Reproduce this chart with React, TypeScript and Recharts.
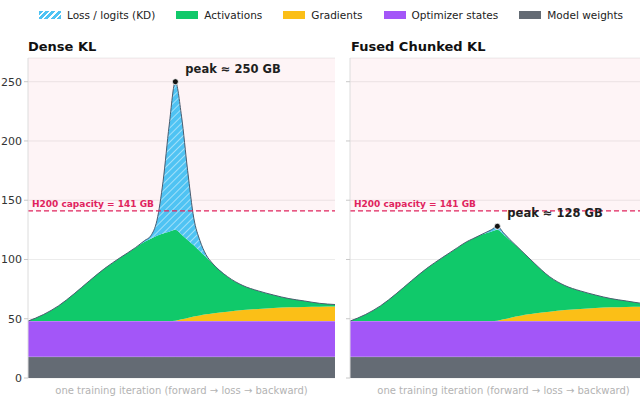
import {
  AreaChart,
  Area,
  XAxis,
  YAxis,
  CartesianGrid,
  ReferenceArea,
  ReferenceLine,
  ReferenceDot,
} from 'recharts'

// progress through one training iteration, in %
const progress = [0, 5, 10, 15, 20, 25, 30, 35, 38, 40, 42, 44, 46, 48, 50, 52, 54, 56, 58, 60, 65, 70, 75, 80, 85, 90, 95, 100]

// memory per component, GB
const modelWeights = [18, 18, 18, 18, 18, 18, 18, 18, 18, 18, 18, 18, 18, 18, 18, 18, 18, 18, 18, 18, 18, 18, 18, 18, 18, 18, 18, 18]
const optimizerStates = [30, 30, 30, 30, 30, 30, 30, 30, 30, 30, 30, 30, 30, 30, 30, 30, 30, 30, 30, 30, 30, 30, 30, 30, 30, 30, 30, 30]
const gradients = [0, 0, 0, 0, 0, 0, 0, 0, 0, 0, 0, 0, 0, 0.3, 1.5, 2.7, 3.8, 4.8, 5.7, 6.5, 8, 9.3, 10.3, 11, 11.6, 12, 12.2, 12.3]
const activations = [0, 5.5, 13, 23, 34, 44.5, 53.5, 62, 67, 69.5, 72, 74, 75.5, 76.7, 71.5, 65.8, 60.2, 54.2, 48.3, 42.5, 29.5, 20.7, 15.2, 11, 7.4, 5, 2.8, 1.7]
const denseLoss = [0, 0, 0, 0, 0, 0, 0, 0, 1, 2.5, 13, 44, 90, 125, 100, 58.5, 23, 9, 2, 0, 0, 0, 0, 0, 0, 0, 0, 0]
const fusedLoss = [0, 0, 0, 0, 0, 0, 0, 0, 0, 0, 0, 0.5, 1.5, 3, 1.5, 0.5, 0, 0, 0, 0, 0, 0, 0, 0, 0, 0, 0, 0]

const yTicks = [0, 50, 100, 150, 200, 250]
const capacity = 141

const C = {
  loss: '#4fc3f3',
  act: '#10c96a',
  grad: '#fbbf17',
  opt: '#a356f8',
  weights: '#646b74',
  cap: '#e0245e',
}

const legend = [
  { name: 'Loss / logits (KD)', color: C.loss, hatch: true },
  { name: 'Activations', color: C.act },
  { name: 'Gradients', color: C.grad },
  { name: 'Optimizer states', color: C.opt },
  { name: 'Model weights', color: C.weights },
]

const peakLabel = (text: string) => (props: any) => {
  const vb = props.viewBox || {}
  const cx = vb.x + (vb.width || 0) / 2
  const cy = vb.y + (vb.height || 0) / 2
  return (
    <text x={cx + 10} y={cy - 9} fontSize={11.5} fontWeight="bold" fill="#1f1f1f">
      {text}
    </text>
  )
}

function Panel({ loss, id, labels }: { loss: number[]; id: string; labels: boolean }) {
  const rows = progress.map((p, i) => ({
    p,
    weights: modelWeights[i],
    opt: optimizerStates[i],
    grad: gradients[i],
    act: activations[i],
    loss: loss[i],
  }))
  const totals = rows.map((r) => r.weights + r.opt + r.grad + r.act + r.loss)
  const peak = Math.max(...totals)
  const peakAt = progress[totals.indexOf(peak)]

  return (
    <AreaChart width={335} height={400} data={rows} margin={{ top: 58, right: 0, bottom: 0, left: 0 }}>
      <defs>
        <pattern id={id} width={5} height={5} patternUnits="userSpaceOnUse" patternTransform="rotate(45)">
          <rect width={5} height={5} fill={C.loss} />
          <line x1={0} y1={0} x2={0} y2={5} stroke="#fff" strokeWidth={1.6} strokeOpacity={0.6} />
        </pattern>
      </defs>
      <ReferenceArea y1={capacity} y2={270} fill="#f43f5e" fillOpacity={0.06} stroke="none" />
      <CartesianGrid vertical={false} stroke="#ececec" />
      <XAxis
        dataKey="p"
        type="number"
        domain={[0, 100]}
        ticks={[]}
        tick={false}
        axisLine={false}
        tickLine={false}
        height={22}
        label={{
          value: 'one training iteration  (forward \u2192 loss \u2192 backward)',
          position: 'insideBottom',
          offset: 6,
          fill: '#b3b3b3',
          fontSize: 10,
        }}
      />
      <YAxis
        width={28}
        domain={[0, 270]}
        ticks={yTicks}
        interval={0}
        tickSize={4}
        axisLine={{ stroke: '#dcdcdc' }}
        tickLine={{ stroke: '#c8c8c8' }}
        tick={labels ? { fill: '#333', fontSize: 11 } : () => <g />}
      />
      <Area type="monotone" dataKey="weights" stackId="m" fill={C.weights} fillOpacity={1} stroke="#fff" strokeOpacity={0.5} strokeWidth={0.8} isAnimationActive={false} />
      <Area type="monotone" dataKey="opt" stackId="m" fill={C.opt} fillOpacity={1} stroke="#fff" strokeOpacity={0.5} strokeWidth={0.8} isAnimationActive={false} />
      <Area type="monotone" dataKey="grad" stackId="m" fill={C.grad} fillOpacity={1} stroke="none" isAnimationActive={false} />
      <Area type="monotone" dataKey="act" stackId="m" fill={C.act} fillOpacity={1} stroke="none" isAnimationActive={false} />
      <Area type="monotone" dataKey="loss" stackId="m" fill={`url(#${id})`} fillOpacity={1} stroke="#4b5d70" strokeWidth={1} isAnimationActive={false} />
      <ReferenceLine
        y={capacity}
        stroke={C.cap}
        strokeDasharray="5 3"
        strokeWidth={1.3}
        label={{
          value: `H200 capacity = ${capacity} GB`,
          position: 'insideBottomLeft',
          offset: 4,
          fill: C.cap,
          fontSize: 9,
          fontWeight: 'bold',
        }}
      />
      <ReferenceDot x={peakAt} y={peak} r={3} fill="#111" stroke="#fff" strokeWidth={0.8} label={peakLabel(`peak \u2248 ${Math.round(peak)} GB`)} />
    </AreaChart>
  )
}

export default function App() {
  return (
    <div
      style={{
        position: 'fixed',
        top: 0,
        left: 0,
        width: 640,
        height: 400,
        overflow: 'hidden',
        background: '#fff',
        fontFamily: '"DejaVu Sans", sans-serif',
      }}
    >
      <div style={{ position: 'absolute', top: 9, left: 39, display: 'flex', alignItems: 'center', gap: 21, fontSize: 10.5, color: '#222' }}>
        {legend.map((l) => (
          <div key={l.name} style={{ display: 'flex', alignItems: 'center', gap: 6 }}>
            <span
              style={{
                display: 'inline-block',
                width: 22,
                height: 8,
                background: l.hatch
                  ? `repeating-linear-gradient(135deg, ${l.color} 0 3px, rgba(255,255,255,0.7) 3px 4.5px)`
                  : l.color,
              }}
            />
            <span>{l.name}</span>
          </div>
        ))}
      </div>
      <div style={{ position: 'absolute', top: 39, left: 28, fontSize: 13, fontWeight: 'bold', lineHeight: '15px', color: '#111' }}>Dense KL</div>
      <div style={{ position: 'absolute', top: 39, left: 351, fontSize: 13, fontWeight: 'bold', lineHeight: '15px', color: '#111' }}>Fused Chunked KL</div>
      <div style={{ position: 'absolute', top: 0, left: 0 }}>
        <Panel loss={denseLoss} id="hatchDense" labels={true} />
      </div>
      <div style={{ position: 'absolute', top: 0, left: 322 }}>
        <Panel loss={fusedLoss} id="hatchFused" labels={false} />
      </div>
    </div>
  )
}
